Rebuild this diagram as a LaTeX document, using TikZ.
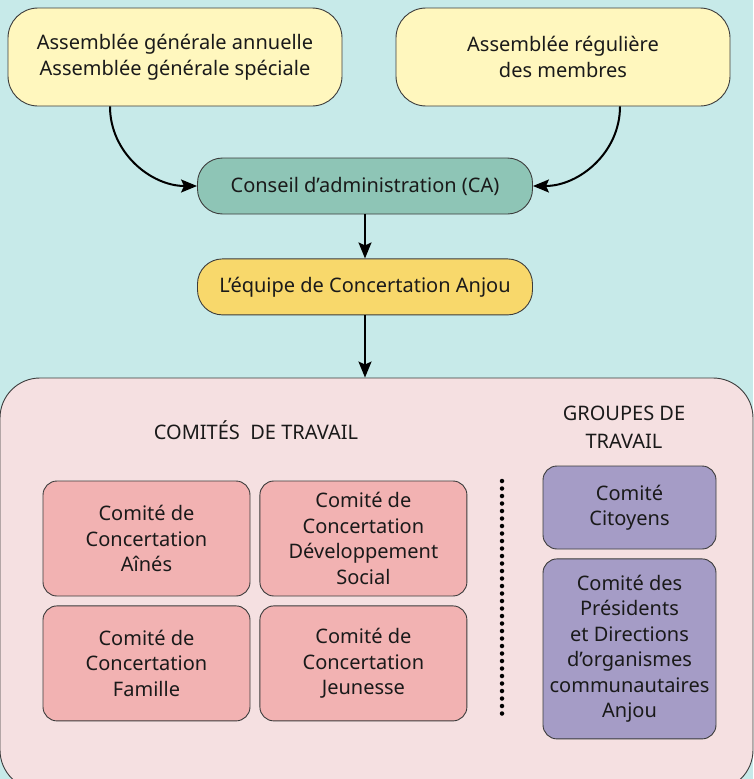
\documentclass[tikz,border=0pt]{standalone}
\usepackage{fontspec}
\setmainfont{Noto Sans}
\usetikzlibrary{arrows.meta,positioning,calc}
\definecolor{bgcyan}{HTML}{C7EAE9}
\definecolor{assembly}{HTML}{FFF7BE}
\definecolor{cagreen}{HTML}{8EC5B6}
\definecolor{equipe}{HTML}{F8D86B}
\definecolor{workbg}{HTML}{F5E0E1}
\definecolor{comite}{HTML}{F2B2B2}
\definecolor{groupe}{HTML}{A59CC6}
\definecolor{ink}{HTML}{1A1A1A}
\tikzset{
  >={Stealth[length=16pt,width=13pt,inset=3pt]},
  every node/.style={font=\fontsize{20}{25.5}\selectfont,text=ink,align=center},
  box/.style={draw=ink!85,line width=0.9pt,inner sep=3pt},
  assem/.style={box,fill=assembly,rounded corners=30pt,minimum width=334pt,minimum height=98pt},
  pill/.style={box,rounded corners=25pt,minimum width=335pt,minimum height=56pt},
  comitebox/.style={box,fill=comite,rounded corners=14pt,minimum width=207pt,minimum height=115pt},
  groupebox/.style={box,fill=groupe,rounded corners=14pt,minimum width=173pt},
  arrow/.style={->,line width=2pt,draw=black},
  title/.style={font=\fontsize{20}{28}\selectfont}
}
\begin{document}
\begin{tikzpicture}[x=1pt,y=-1pt]
  \useasboundingbox (0,0) rectangle (753,779);
  \fill[bgcyan] (0,0) rectangle (753,779);

  \node[assem] (agm) at (175,57) {Assemblée générale annuelle\\Assemblée générale spéciale};
  \node[assem] (arm) at (563,57) {Assemblée régulière\\des membres};
  \node[pill,fill=cagreen] (ca) at (365,186) {Conseil d’administration (CA)};
  \node[pill,fill=equipe,below=44pt of ca] (eq) {L’équipe de Concertation Anjou};

  \node[box,fill=workbg,rounded corners=40pt,minimum width=753pt,minimum height=412pt] (work) at (376.5,584) {};
  \node[title] (comites) at (256,430) {COMITÉS\ \ DE TRAVAIL};
  \node[title] (groupes) at (624,427) {GROUPES DE\\TRAVAIL};

  \node[comitebox] (aines) at (146.5,538.5) {Comité de\\Concertation\\Aînés};
  \node[comitebox,right=9pt of aines] (social) {Comité de\\Concertation\\Développement\\Social};
  \node[comitebox,below=9pt of aines] (famille) {Comité de\\Concertation\\Famille};
  \node[comitebox,below=9pt of social] (jeunesse) {Comité de\\Concertation\\Jeunesse};

  \node[groupebox,minimum height=83pt] (citoyens) at (629.5,507.5) {Comité\\Citoyens};
  \node[groupebox,minimum height=180pt,below=9pt of citoyens] (presidents) {Comité des\\Présidents\\et Directions\\d’organismes\\communautaires\\Anjou};

  \coordinate (dtop) at (502,481);
  \coordinate (dbot) at (502,720);
  \draw[line width=4.5pt,line cap=round,dash pattern=on 0pt off 7.5pt] (dtop) -- (dbot);

  \draw[arrow] ([xshift=-65pt]agm.south) to[out=-90,in=180] (ca.west);
  \draw[arrow] ([xshift=57pt]arm.south) to[out=-90,in=0] (ca.east);
  \draw[arrow] (ca) -- (eq);
  \draw[arrow] (eq.south) -- (eq.south |- work.north);
\end{tikzpicture}
\end{document}
